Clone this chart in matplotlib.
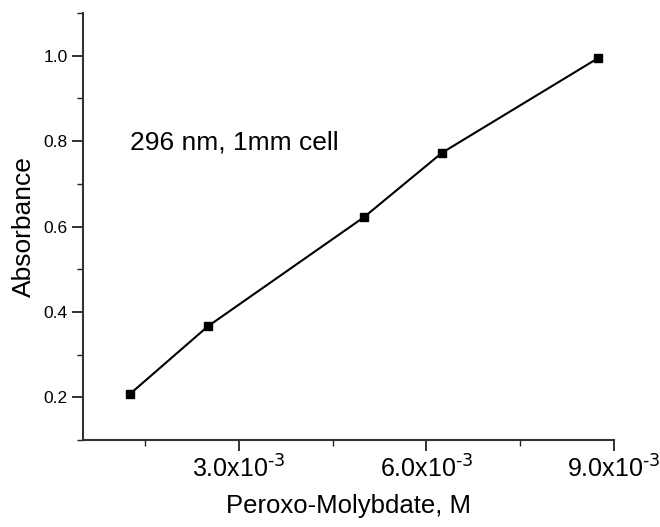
import matplotlib.pyplot as plt
from matplotlib.ticker import MultipleLocator, FuncFormatter

plt.rcParams['font.family'] = ['Liberation Sans', 'DejaVu Sans']
plt.rcParams['mathtext.default'] = 'regular'

# data
concentration = [1.25e-3, 2.5e-3, 5.0e-3, 6.25e-3, 8.75e-3]
absorbance = [0.207, 0.366, 0.622, 0.773, 0.995]
note = "296 nm, 1mm cell"


def sci_label(v, pos):
    return f"{v * 1e3:.1f}x10$^{{\\text{{-3}}}}$"


# ---- Plot ----
fig = plt.figure(figsize=(6.6, 5.27), dpi=100)
ax = fig.add_axes([0.1253, 0.1651, 0.805, 0.810])

ax.plot(concentration, absorbance, color="black", linewidth=1.5,
        marker="s", markersize=6)

ax.set_xlim(0.5e-3, 9e-3)
ax.set_ylim(0.1, 1.1)

ax.xaxis.set_major_locator(MultipleLocator(3e-3))
ax.xaxis.set_minor_locator(MultipleLocator(1.5e-3))
ax.xaxis.set_major_formatter(FuncFormatter(sci_label))
ax.yaxis.set_major_locator(MultipleLocator(0.2))
ax.yaxis.set_minor_locator(MultipleLocator(0.1))
ax.yaxis.set_major_formatter(FuncFormatter(lambda v, p: f"{v:.1f}"))

for side in ["top", "right"]:
    ax.spines[side].set_visible(False)
for side in ["left", "bottom"]:
    ax.spines[side].set_linewidth(1.5)
    ax.spines[side].set_color("#333333")

ax.tick_params(axis="both", which="major", direction="out", length=8,
               width=1.3, color="#222222")
ax.tick_params(axis="both", which="minor", direction="out", length=4,
               width=1.0, color="#222222")
ax.tick_params(axis="x", labelsize=18, pad=3)
ax.tick_params(axis="y", labelsize=12.5, pad=3)

ax.set_xlabel("Peroxo-Molybdate, M", fontsize=18.5, labelpad=8)
ax.set_ylabel("Absorbance", fontsize=19, labelpad=5)

ax.text(0.089, 0.696, note, transform=ax.transAxes, fontsize=19,
        ha="left", va="center")

fig.savefig("out.png", dpi=100)
